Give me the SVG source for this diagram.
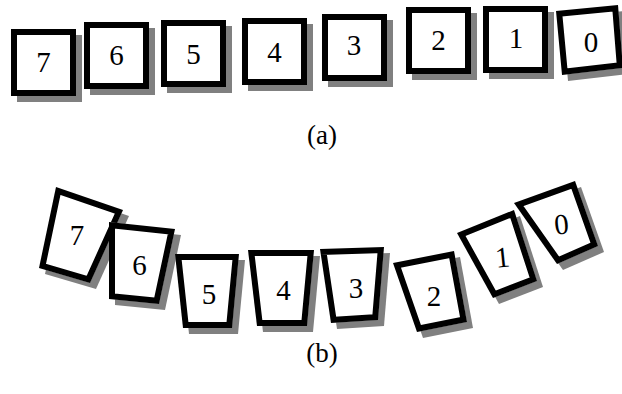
<svg xmlns="http://www.w3.org/2000/svg" width="622" height="394" viewBox="0 0 622 394" font-family="'Liberation Serif', 'Times New Roman', 'DejaVu Serif', serif">
  <style>
    .shadow { fill: #808080; }
    .face { fill: #ffffff; stroke: #000000; stroke-width: 12; stroke-linejoin: miter; }
    .num { font-family: 'Liberation Serif', 'Times New Roman', 'DejaVu Serif', serif; font-size: 29px; text-anchor: middle; fill: #000000; }
    .caption { font-family: 'Liberation Serif', 'Times New Roman', 'DejaVu Serif', serif; font-size: 27px; text-anchor: middle; fill: #000000; }
  </style>
  <defs>
    <!-- outlines of the tiles (outer edge of the border); the border is drawn inside via a clip -->
    <polygon id="pa7" points="11,29 76,29 76,96 11,96"/>
    <polygon id="pa6" points="84,22 149,22 149,89 84,89"/>
    <polygon id="pa5" points="161,20 226,20 226,87 161,87"/>
    <polygon id="pa4" points="242,18 307,18 307,85 242,85"/>
    <polygon id="pa3" points="322,14 387,14 387,81 322,81"/>
    <polygon id="pa2" points="406,7 471,7 471,74 406,74"/>
    <polygon id="pa1" points="483,6 548,6 548,73 483,73"/>
    <polygon id="pa0" points="556,11 618,5 623,68 562,75"/>

    <polygon id="pb7" points="56,187 123,210 90,283 39,268"/>
    <polygon id="pb6" points="109,222 175,229 159,304 109,299"/>
    <polygon id="pb5" points="175,254 239,254 232,328 183,328"/>
    <polygon id="pb4" points="248,250 314,250 307,326 257,326"/>
    <polygon id="pb3" points="320,249 384,247 378,320 331,323"/>
    <polygon id="pb2" points="393,263 454,251 467,322 417,332"/>
    <polygon id="pb1" points="457,233 514,210 537,281 493,298"/>
    <polygon id="pb0" points="514,203 575,181 598,246 557,264"/>

    <clipPath id="ca7"><use href="#pa7"/></clipPath>
    <clipPath id="ca6"><use href="#pa6"/></clipPath>
    <clipPath id="ca5"><use href="#pa5"/></clipPath>
    <clipPath id="ca4"><use href="#pa4"/></clipPath>
    <clipPath id="ca3"><use href="#pa3"/></clipPath>
    <clipPath id="ca2"><use href="#pa2"/></clipPath>
    <clipPath id="ca1"><use href="#pa1"/></clipPath>
    <clipPath id="ca0"><use href="#pa0"/></clipPath>
    <clipPath id="cb7"><use href="#pb7"/></clipPath>
    <clipPath id="cb6"><use href="#pb6"/></clipPath>
    <clipPath id="cb5"><use href="#pb5"/></clipPath>
    <clipPath id="cb4"><use href="#pb4"/></clipPath>
    <clipPath id="cb3"><use href="#pb3"/></clipPath>
    <clipPath id="cb2"><use href="#pb2"/></clipPath>
    <clipPath id="cb1"><use href="#pb1"/></clipPath>
    <clipPath id="cb0"><use href="#pb0"/></clipPath>
  </defs>

  <rect width="622" height="394" fill="#ffffff"/>

  <!-- (a) flat row of tiles -->
  <g id="row-a">
    <g id="a7"><use href="#pa7" class="shadow" transform="translate(6,6)"/><use href="#pa7" class="face" clip-path="url(#ca7)"/><text class="num" x="43.5" y="72">7</text></g>
    <g id="a6"><use href="#pa6" class="shadow" transform="translate(6,6)"/><use href="#pa6" class="face" clip-path="url(#ca6)"/><text class="num" x="116.5" y="65">6</text></g>
    <g id="a5"><use href="#pa5" class="shadow" transform="translate(6,6)"/><use href="#pa5" class="face" clip-path="url(#ca5)"/><text class="num" x="193.5" y="64">5</text></g>
    <g id="a4"><use href="#pa4" class="shadow" transform="translate(6,6)"/><use href="#pa4" class="face" clip-path="url(#ca4)"/><text class="num" x="274.5" y="62">4</text></g>
    <g id="a3"><use href="#pa3" class="shadow" transform="translate(6,6)"/><use href="#pa3" class="face" clip-path="url(#ca3)"/><text class="num" x="354" y="55">3</text></g>
    <g id="a2"><use href="#pa2" class="shadow" transform="translate(6,6)"/><use href="#pa2" class="face" clip-path="url(#ca2)"/><text class="num" x="438.5" y="50">2</text></g>
    <g id="a1"><use href="#pa1" class="shadow" transform="translate(6,6)"/><use href="#pa1" class="face" clip-path="url(#ca1)"/><text class="num" x="516" y="48">1</text></g>
    <g id="a0"><use href="#pa0" class="shadow" transform="translate(6,6)"/><use href="#pa0" class="face" clip-path="url(#ca0)"/><text class="num" x="591" y="52">0</text></g>
  </g>
  <text id="label-a" class="caption" x="322" y="144">(a)</text>

  <!-- (b) tiles bent along an arc -->
  <g id="row-b">
    <g id="b7"><use href="#pb7" class="shadow" transform="translate(6,6)"/><use href="#pb7" class="face" clip-path="url(#cb7)"/><text class="num" x="77" y="245">7</text></g>
    <g id="b6"><use href="#pb6" class="shadow" transform="translate(6,6)"/><use href="#pb6" class="face" clip-path="url(#cb6)"/><text class="num" x="139.5" y="275">6</text></g>
    <g id="b5"><use href="#pb5" class="shadow" transform="translate(6,6)"/><use href="#pb5" class="face" clip-path="url(#cb5)"/><text class="num" x="209" y="304">5</text></g>
    <g id="b4"><use href="#pb4" class="shadow" transform="translate(6,6)"/><use href="#pb4" class="face" clip-path="url(#cb4)"/><text class="num" x="283.5" y="300">4</text></g>
    <g id="b3"><use href="#pb3" class="shadow" transform="translate(6,6)"/><use href="#pb3" class="face" clip-path="url(#cb3)"/><text class="num" x="356" y="298">3</text></g>
    <g id="b2"><use href="#pb2" class="shadow" transform="translate(6,6)"/><use href="#pb2" class="face" clip-path="url(#cb2)"/><text class="num" x="434" y="306">2</text></g>
    <g id="b1"><use href="#pb1" class="shadow" transform="translate(6,6)"/><use href="#pb1" class="face" clip-path="url(#cb1)"/><text class="num" x="502.5" y="267" transform="rotate(-6 502.5 257)">1</text></g>
    <g id="b0"><use href="#pb0" class="shadow" transform="translate(6,6)"/><use href="#pb0" class="face" clip-path="url(#cb0)"/><text class="num" x="561.5" y="234" transform="rotate(-6 561.5 224)">0</text></g>
  </g>
  <text id="label-b" class="caption" x="322" y="362">(b)</text>
</svg>
